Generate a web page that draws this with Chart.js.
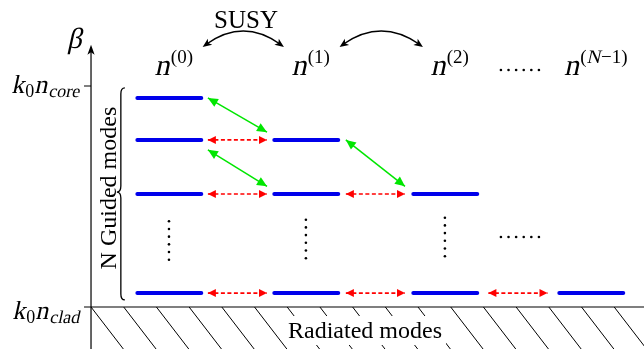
<!DOCTYPE html>
<html>
<head>
<meta charset="utf-8">
<script src="https://cdn.jsdelivr.net/npm/chart.js@4"></script>
<style>
  html, body { margin: 0; padding: 0; background: #fff; }
  canvas { display: block; }
</style>
</head>
<body>
<canvas id="diagram" width="644" height="349"></canvas>
<script>
// superscript of each index profile n^(k)
const profiles = ['0', '1', '2', 'N\u22121'];
// left end of each profile's column of guided modes (column units)
const columnStart = [0, 0.996, 2.007, 3.069];
// guided modes drawn in each column, beta normalised: 0 = k0 n_clad, 1 = k0 n_core
const guidedModes = [
  [0.946, 0.756, 0.511, 0.063],
  [0.756, 0.511, 0.063],
  [0.511, 0.063],
  [0.063]
];
// green SUSY links: [column, mode index] -> same index in the next column
const susyLinks = [[0, 0], [0, 1], [1, 0]];
// beta where the vertical "..." sit in the first three columns
const ellipsisLevel = [0.301, 0.308, 0.317];

const LEVEL_W = 0.48;
const ARROW_LEN = 0.43;
const BLUE = 'rgb(0,0,235)';
const RED = 'rgb(255,0,0)';
const GREEN = 'rgb(0,230,0)';
const SERIF = '"Liberation Serif", "DejaVu Serif", serif';

const datasets = [];

// blue levels
guidedModes.forEach((col, c) => {
  col.forEach(b => {
    datasets.push({
      data: [{ x: columnStart[c] + 0.01, y: b }, { x: columnStart[c] + LEVEL_W - 0.005, y: b }],
      showLine: true, borderColor: BLUE, borderWidth: 4, borderCapStyle: 'round'
    });
  });
});

// red dashed arrows between equal modes of neighbouring columns
for (let c = 0; c < guidedModes.length - 1; c++) {
  const mid = (columnStart[c] + LEVEL_W + columnStart[c + 1]) / 2;
  guidedModes[c + 1].forEach(b => {
    datasets.push({
      data: [{ x: mid - ARROW_LEN / 2, y: b }, { x: mid + ARROW_LEN / 2, y: b }],
      showLine: true, borderColor: RED, borderWidth: 1.6, borderDash: [4, 2.5],
      arrowHead: { len: 8, half: 4 }
    });
  });
}

// green diagonal arrows
susyLinks.forEach(([c, k]) => {
  const mid = (columnStart[c] + LEVEL_W + columnStart[c + 1]) / 2;
  const from = guidedModes[c][k];
  const to = guidedModes[c + 1][k];
  const shared = guidedModes[c + 1].includes(from);
  datasets.push({
    data: [{ x: mid - ARROW_LEN / 2, y: from - (shared ? 0.045 : 0) },
           { x: mid + ARROW_LEN / 2, y: to + 0.035 }],
    showLine: true, borderColor: GREEN, borderWidth: 1.5,
    arrowHead: { len: 10, half: 4.5 }
  });
});

function head(ctx, tx, ty, fx, fy, len, half, concave) {
  const a = Math.atan2(ty - fy, tx - fx);
  ctx.save();
  ctx.translate(tx, ty);
  ctx.rotate(a);
  ctx.beginPath();
  ctx.moveTo(0, 0);
  ctx.lineTo(-len, half);
  ctx.lineTo(-len * (concave ? 0.75 : 1), 0);
  ctx.lineTo(-len, -half);
  ctx.closePath();
  ctx.fill();
  ctx.restore();
}

const arrowHeads = {
  id: 'arrowHeads',
  afterDatasetsDraw(chart) {
    const ctx = chart.ctx;
    chart.data.datasets.forEach((ds, i) => {
      if (!ds.arrowHead) return;
      const pts = chart.getDatasetMeta(i).data;
      const p0 = pts[0], p1 = pts[pts.length - 1];
      ctx.fillStyle = ds.borderColor;
      head(ctx, p1.x, p1.y, p0.x, p0.y, ds.arrowHead.len, ds.arrowHead.half);
      head(ctx, p0.x, p0.y, p1.x, p1.y, ds.arrowHead.len, ds.arrowHead.half);
    });
  }
};

function font(size) {
  return size + 'px ' + SERIF;
}

// parts: [text, size, italic, shiftY]; italics are slanted by hand so they stay serif
function mathRun(ctx, parts, x, y, align) {
  let w = 0;
  parts.forEach(p => { ctx.font = font(p[1]); w += ctx.measureText(p[0]).width + (p[2] ? p[1] * 0.04 : 0); });
  let cx = align === 'right' ? x - w : align === 'center' ? x - w / 2 : x;
  ctx.textAlign = 'left';
  ctx.textBaseline = 'alphabetic';
  parts.forEach(p => {
    ctx.font = font(p[1]);
    ctx.save();
    ctx.translate(cx, y + p[3]);
    if (p[2]) ctx.transform(1, 0, -0.22, 1, 0, 0);
    ctx.fillText(p[0], 0, 0);
    ctx.restore();
    cx += ctx.measureText(p[0]).width + (p[2] ? p[1] * 0.04 : 0);
  });
}

function superParts(s) {
  const out = [['n', 30, true, 0], ['(', 19, false, -12]];
  s.split(/([A-Za-z]+)/).filter(t => t).forEach(t => {
    out.push([t, 19, /[A-Za-z]/.test(t), -12]);
  });
  out.push([')', 19, false, -12]);
  return out;
}

function dotRow(ctx, cx, cy, dx, dy) {
  for (let i = 0; i < 6; i++) {
    ctx.beginPath();
    ctx.arc(cx + (i - 2.5) * dx, cy + (i - 2.5) * dy, 1.3, 0, Math.PI * 2);
    ctx.fill();
  }
}

const paper = {
  id: 'paper',
  beforeDraw(chart) {
    const ctx = chart.ctx;
    ctx.save();
    ctx.fillStyle = '#fff';
    ctx.fillRect(0, 0, chart.width, chart.height);
    ctx.restore();
  },
  beforeDatasetsDraw(chart) {
    const ctx = chart.ctx;
    const sx = chart.scales.x, sy = chart.scales.y;
    const px = v => sx.getPixelForValue(v);
    const py = v => sy.getPixelForValue(v);
    const ax = px(-0.327), ay = py(0), top = py(1);
    const W = chart.width, H = chart.height;
    ctx.save();
    ctx.strokeStyle = '#000';
    ctx.fillStyle = '#000';

    // hatching for the radiated modes
    ctx.save();
    ctx.beginPath();
    ctx.rect(ax, ay, W - ax, H - ay);
    ctx.clip();
    ctx.lineWidth = 1;
    for (let x0 = ax; x0 < W; x0 += 32.7) {
      ctx.beginPath();
      ctx.moveTo(x0, ay);
      ctx.lineTo(x0 + 0.77 * (H - ay), H);
      ctx.stroke();
    }
    ctx.restore();

    // label over the hatching
    ctx.font = font(24);
    const label = 'Radiated modes';
    const lw = ctx.measureText(label).width;
    const lx = 365, lb = 338;
    ctx.fillStyle = '#fff';
    ctx.fillRect(lx - lw / 2 - 4, lb - 22, lw + 8, 29);
    ctx.fillStyle = '#000';
    ctx.textAlign = 'center';
    ctx.fillText(label, lx, lb);

    // axes
    ctx.lineWidth = 1.2;
    ctx.beginPath();
    ctx.moveTo(ax - 7, ay); ctx.lineTo(W, ay);
    ctx.moveTo(ax, H); ctx.lineTo(ax, py(1.186) + 6);
    ctx.moveTo(ax - 7, top); ctx.lineTo(ax, top);
    ctx.stroke();
    head(ctx, ax, py(1.186), ax, H, 10, 3.6, true);

    // axis labels
    mathRun(ctx, [['\u03B2', 29, true, 0]], 67, 48, 'left');
    mathRun(ctx, [['k', 26, true, 0], ['0', 18, false, 4], ['n', 26, true, 0], ['core', 18, true, 4]], 80, top + 7, 'right');
    mathRun(ctx, [['k', 26, true, 0], ['0', 18, false, 4], ['n', 26, true, 0], ['clad', 18, true, 4]], 80, ay + 12, 'right');

    // brace around the guided modes
    const bx = px(-0.11), bt = py(0.991), bb = py(0.032), bm = py(0.52);
    ctx.lineWidth = 1.3;
    ctx.beginPath();
    ctx.moveTo(bx + 4, bt);
    ctx.quadraticCurveTo(bx, bt, bx, bt + 6);
    ctx.lineTo(bx, bm - 6);
    ctx.quadraticCurveTo(bx, bm, bx - 4, bm);
    ctx.quadraticCurveTo(bx, bm, bx, bm + 6);
    ctx.lineTo(bx, bb - 6);
    ctx.quadraticCurveTo(bx, bb, bx + 4, bb);
    ctx.stroke();
    ctx.save();
    ctx.translate(116, bm - 4);
    ctx.rotate(-Math.PI / 2);
    ctx.font = font(24);
    ctx.textAlign = 'center';
    ctx.fillText('N Guided modes', 0, 0);
    ctx.restore();

    // column titles n^(k)
    profiles.forEach((p, c) => {
      const cx = px(columnStart[c] + LEVEL_W / 2 + 0.035);
      mathRun(ctx, superParts(p), cx, 75, 'center');
    });

    // SUSY curved arrows
    ctx.font = font(25);
    ctx.textAlign = 'center';
    ctx.fillText('SUSY', 246, 28);
    ctx.lineWidth = 1.5;
    [0, 1].forEach(c => {
      const x0 = px(columnStart[c] + LEVEL_W + 0.005);
      const x1 = px(columnStart[c + 1] + 0.08);
      const y0 = 47, cy = 18, cxm = (x0 + x1) / 2;
      ctx.beginPath();
      ctx.moveTo(x0 + 4, y0 - 3);
      ctx.quadraticCurveTo(cxm, cy, x1 - 4, y0 - 3);
      ctx.stroke();
      head(ctx, x0, y0, cxm, cy, 9, 3.8, true);
      head(ctx, x1, y0, cxm, cy, 9, 3.8, true);
    });

    // ellipses
    ellipsisLevel.forEach((b, c) => {
      dotRow(ctx, px(columnStart[c] + LEVEL_W / 2), py(b), 0, 7.7);
    });
    const gap = px((columnStart[2] + LEVEL_W + columnStart[3]) / 2) + 2;
    dotRow(ctx, gap, py(0.317), 7.6, 0);
    dotRow(ctx, gap, 70, 7.6, 0);
    ctx.restore();
  }
};

new Chart(document.getElementById('diagram'), {
  type: 'scatter',
  data: { datasets },
  options: {
    responsive: false,
    animation: false,
    events: [],
    layout: { padding: 0 },
    plugins: { legend: { display: false }, tooltip: { enabled: false } },
    elements: { point: { radius: 0, hoverRadius: 0 } },
    scales: {
      x: { type: 'linear', display: false, min: -0.989, max: 3.695 },
      y: { type: 'linear', display: false, min: -0.19, max: 1.389 }
    }
  },
  plugins: [paper, arrowHeads]
});
</script>
</body>
</html>
